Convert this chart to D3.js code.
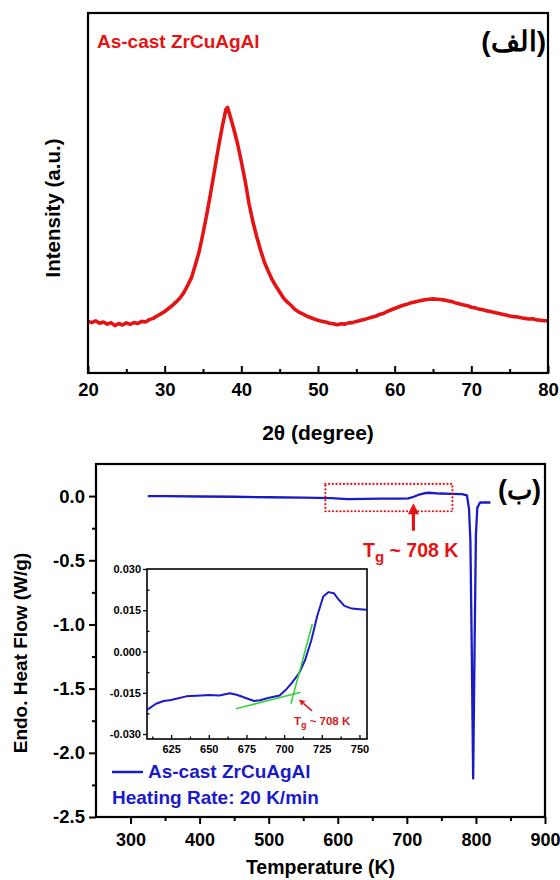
<!DOCTYPE html>
<html><head><meta charset="utf-8">
<script src="https://cdn.jsdelivr.net/npm/d3@7"></script>
<style>
body{margin:0;background:#fff}
text{font-family:"Liberation Sans",Arial,sans-serif;font-weight:bold}
</style>
</head><body>
<svg id="c" width="560" height="880" xmlns="http://www.w3.org/2000/svg"></svg>
<script>
// ---------- DATA ----------
const xrdAngle = [20,20.5,21,21.5,22,22.5,23,23.5,24,24.5,25,25.5,26,26.5,27,27.5,28,28.5,29,29.5,30,30.5,31,31.5,32,32.5,33,33.5,34,34.5,35,35.5,36,36.5,37,37.5,38,38.2,38.5,39,39.5,40,40.5,41,41.5,42,42.5,43,43.5,44,44.5,45,45.5,46,46.5,47,47.5,48,48.5,49,49.5,50,50.5,51,51.5,52,52.5,53,53.5,54,54.5,55,55.5,56,56.5,57,57.5,58,58.5,59,59.5,60,60.5,61,61.5,62,62.5,63,63.5,64,64.5,65,65.5,66,66.5,67,67.5,68,68.5,69,69.5,70,70.5,71,71.5,72,72.5,73,73.5,74,74.5,75,75.5,76,76.5,77,77.5,78,78.5,79,79.5,80];
const xrdIntensity = [172,168,174,166,170,163,168,158,165,160,167,162,168,165,172,170,178,182,190,197,205,215,225,237,250,268,292,318,360,405,465,530,600,675,750,820,880,885,860,815,765,705,640,565,505,455,410,370,340,312,290,270,250,236,225,212,203,197,190,185,180,176,172,170,166,164,161,164,163,167,168,172,175,178,182,186,189,195,198,205,210,215,220,225,228,233,236,239,242,244,246,247,246,245,243,240,238,233,230,227,224,219,217,213,211,207,205,202,199,196,193,190,188,187,184,182,180,181,177,176,174,174];
const xrdXTicks = [20,30,40,50,60,70,80];

const dscTemp = [325,350,400,450,500,550,590,614,640,662,690,702,710,718,725,732,748,765,780,787,790,792,794,796,798,800,802,806,821];
const dscHeat = [0.0,-0.001,-0.003,-0.005,-0.009,-0.012,-0.016,-0.024,-0.022,-0.02,-0.02,-0.018,-0.005,0.012,0.022,0.026,0.02,0.018,0.016,0.005,-0.1,-0.35,-1.2,-2.2,-1.2,-0.3,-0.09,-0.05,-0.05];
const dscXTicks = [300,400,500,600,700,800,900];
const dscYTicks = [0.0,-0.5,-1.0,-1.5,-2.0,-2.5];
const dscBox = [582,766,0.095,-0.118];     // Tmin, Tmax, top, bottom
const dscArrow = [709.5,-0.27,-0.055];     // T, tail, head

const insetTemp = [609,615,620,625,635,645,650,657,664,669,675,680,684,690,697,701,705,710,714,718,722,726,729.5,733,736,740,745,750,755];
const insetHeat = [-0.0212,-0.0190,-0.0180,-0.0176,-0.0163,-0.0160,-0.0158,-0.0160,-0.0152,-0.0158,-0.0170,-0.0180,-0.0177,-0.0168,-0.0160,-0.0140,-0.0115,-0.0078,-0.0030,0.0040,0.0130,0.0200,0.0216,0.0212,0.0190,0.0166,0.0156,0.0154,0.0152];
const insetXTicks = [625,650,675,700,725,750];
const insetYTicks = [0.030,0.015,0.000,-0.015,-0.030];
const tangentBase = [[668,-0.0208],[711,-0.0148]];
const tangentSteep = [[704.5,-0.0190],[718.7,0.0100]];
const insetArrow = [[718.5,-0.0216],[709.8,-0.0174]];

// ---------- DRAW ----------
const svg = d3.select("#c");
const RED = "#e41414", BLUE = "#1a1ac8";
const FONT = "'Liberation Sans',Arial,sans-serif";

// ===== Top chart (XRD) =====
const t = {l:88, r:548, t:13, b:373};
const xX = d3.scaleLinear().domain([20,80]).range([t.l,t.r]);
const yX = d3.scaleLinear().domain([0,1200]).range([t.b,t.t]);
const gt = svg.append("g");
gt.append("path")
  .datum(xrdAngle.map((a,i)=>[a,xrdIntensity[i]]))
  .attr("fill","none").attr("stroke",RED).attr("stroke-width",3.6)
  .attr("stroke-linejoin","round")
  .attr("d", d3.line().x(d=>xX(d[0])).y(d=>yX(d[1])));
gt.append("g").attr("transform",`translate(0,${t.b})`)
  .call(d3.axisBottom(xX).tickValues(d3.range(25,80,10)).tickSizeInner(-4).tickSizeOuter(0).tickFormat(""))
  .call(g=>g.select(".domain").remove())
  .call(g=>g.selectAll("line").attr("stroke-width",2));
gt.append("g").attr("transform",`translate(0,${t.b})`)
  .call(d3.axisBottom(xX).tickValues(xrdXTicks).tickSizeInner(-7).tickSizeOuter(0).tickPadding(10))
  .call(g=>g.select(".domain").remove())
  .call(g=>g.selectAll("line").attr("stroke-width",2))
  .call(g=>g.selectAll("text").attr("font-size",18.5).attr("fill","#000")
     .attr("font-family",FONT).attr("font-weight","bold"));
gt.append("rect").attr("x",t.l).attr("y",t.t).attr("width",t.r-t.l).attr("height",t.b-t.t)
  .attr("fill","none").attr("stroke","#000").attr("stroke-width",2.2);
gt.append("text").attr("x",(t.l+t.r)/2).attr("y",440).attr("text-anchor","middle")
  .attr("font-size",21).text("2θ (degree)");
gt.append("text").attr("transform",`translate(60,208) rotate(-90)`)
  .attr("text-anchor","middle").attr("font-size",20.5).text("Intensity (a.u.)");
gt.append("text").attr("x",97).attr("y",48).attr("fill",RED).attr("font-size",19)
  .text("As-cast ZrCuAgAl");
gt.append("text").attr("x",546).attr("y",51).attr("text-anchor","end")
  .attr("font-family","'DejaVu Sans',sans-serif").attr("font-size",28).text("(الف)");

// ===== Bottom chart (DSC) =====
const m = {l:96, r:545, t:464, b:817};
const xD = d3.scaleLinear().domain([250,900]).range([m.l,m.r]);
const yD = d3.scaleLinear().domain([-2.5,0.25]).range([m.b,m.t]);
const gb = svg.append("g");
gb.append("g").attr("transform",`translate(0,${m.b})`)
  .call(d3.axisBottom(xD).tickValues(d3.range(350,900,100)).tickSizeInner(4).tickSizeOuter(0).tickFormat(""))
  .call(g=>g.select(".domain").remove()).call(g=>g.selectAll("line").attr("stroke-width",2));
gb.append("g").attr("transform",`translate(${m.l},0)`)
  .call(d3.axisLeft(yD).tickValues(d3.range(-2.25,0.1,0.5)).tickSizeInner(4).tickSizeOuter(0).tickFormat(""))
  .call(g=>g.select(".domain").remove()).call(g=>g.selectAll("line").attr("stroke-width",2));
gb.append("g").attr("transform",`translate(0,${m.b})`)
  .call(d3.axisBottom(xD).tickValues(dscXTicks).tickSizeInner(7).tickSizeOuter(0).tickPadding(9))
  .call(g=>g.select(".domain").remove())
  .call(g=>g.selectAll("line").attr("stroke-width",2))
  .call(g=>g.selectAll("text").attr("font-size",18).attr("fill","#000")
     .attr("font-family",FONT).attr("font-weight","bold"));
gb.append("g").attr("transform",`translate(${m.l},0)`)
  .call(d3.axisLeft(yD).tickValues(dscYTicks).tickSizeInner(7).tickSizeOuter(0).tickPadding(4))
  .call(g=>g.select(".domain").remove())
  .call(g=>g.selectAll("line").attr("stroke-width",2))
  .call(g=>g.selectAll("text").attr("font-size",18.5).attr("fill","#000")
     .attr("font-family",FONT).attr("font-weight","bold")
     .text(d=>d3.format(".1f")(d).replace("−","-")));
gb.append("rect").attr("x",m.l).attr("y",m.t).attr("width",m.r-m.l).attr("height",m.b-m.t)
  .attr("fill","none").attr("stroke","#000").attr("stroke-width",2.2);
gb.append("path")
  .datum(dscTemp.map((a,i)=>[a,dscHeat[i]]))
  .attr("fill","none").attr("stroke",BLUE).attr("stroke-width",2.3).attr("stroke-linejoin","round")
  .attr("d", d3.line().x(d=>xD(d[0])).y(d=>yD(d[1])));
gb.append("rect").attr("x",xD(dscBox[0])).attr("y",yD(dscBox[2]))
  .attr("width",xD(dscBox[1])-xD(dscBox[0])).attr("height",yD(dscBox[3])-yD(dscBox[2]))
  .attr("fill","none").attr("stroke",RED).attr("stroke-width",2.2)
  .attr("stroke-dasharray","0.1,3.6").attr("stroke-linecap","round");
{
  const ax = xD(dscArrow[0]), y1 = yD(dscArrow[1]), y2 = yD(dscArrow[2]);
  gb.append("line").attr("x1",ax).attr("x2",ax).attr("y1",y1).attr("y2",y2+9)
    .attr("stroke",RED).attr("stroke-width",3.2);
  gb.append("path").attr("d",`M${ax},${y2} L${ax-5.5},${y2+11} L${ax+5.5},${y2+11} Z`).attr("fill",RED);
}
{
  const tx = gb.append("text").attr("x",363).attr("y",557).attr("fill",RED).attr("font-size",19.5);
  tx.append("tspan").text("T");
  tx.append("tspan").attr("font-size",15).attr("dy",5).text("g");
  tx.append("tspan").attr("dy",-5).text(" ~ 708 K");
}
gb.append("text").attr("x",541).attr("y",499).attr("text-anchor","end")
  .attr("font-family","'DejaVu Sans',sans-serif").attr("font-size",27).text("(ب)");
gb.append("text").attr("transform",`translate(27,653) rotate(-90)`)
  .attr("text-anchor","middle").attr("font-size",19).text("Endo. Heat Flow (W/g)");
gb.append("text").attr("x",(m.l+m.r)/2).attr("y",874).attr("text-anchor","middle")
  .attr("font-size",19.5).text("Temperature (K)");
gb.append("line").attr("x1",112).attr("x2",143).attr("y1",772).attr("y2",772)
  .attr("stroke",BLUE).attr("stroke-width",2.5);
gb.append("text").attr("x",148).attr("y",778).attr("fill",BLUE).attr("font-size",19).text("As-cast ZrCuAgAl");
gb.append("text").attr("x",112).attr("y",804).attr("fill",BLUE).attr("font-size",19).text("Heating Rate: 20 K/min");

// ===== Inset =====
const n = {l:147, r:367, t:569, b:739};
const xI = d3.scaleLinear().domain([609,755]).range([n.l,n.r]);
const yI = d3.scaleLinear().domain([-0.0318,0.030]).range([n.b,n.t]);
const gi = svg.append("g");
gi.append("rect").attr("x",n.l).attr("y",n.t).attr("width",n.r-n.l).attr("height",n.b-n.t).attr("fill","#fff");
gi.append("g").attr("transform",`translate(0,${n.b})`)
  .call(d3.axisBottom(xI).tickValues(d3.range(612.5,755,25)).tickSizeInner(-2.5).tickSizeOuter(0).tickFormat(""))
  .call(g=>g.select(".domain").remove()).call(g=>g.selectAll("line").attr("stroke-width",1.3));
gi.append("g").attr("transform",`translate(${n.l},0)`)
  .call(d3.axisLeft(yI).tickValues([0.0225,0.0075,-0.0075,-0.0225]).tickSizeInner(-2.5).tickSizeOuter(0).tickFormat(""))
  .call(g=>g.select(".domain").remove()).call(g=>g.selectAll("line").attr("stroke-width",1.3));
gi.append("g").attr("transform",`translate(0,${n.b})`)
  .call(d3.axisBottom(xI).tickValues(insetXTicks).tickSizeInner(-4).tickSizeOuter(0).tickPadding(6))
  .call(g=>g.select(".domain").remove()).call(g=>g.selectAll("line").attr("stroke-width",1.3))
  .call(g=>g.selectAll("text").attr("font-size",11).attr("fill","#000")
     .attr("font-family",FONT).attr("font-weight","bold"));
gi.append("g").attr("transform",`translate(${n.l},0)`)
  .call(d3.axisLeft(yI).tickValues(insetYTicks).tickSizeInner(4).tickSizeOuter(0).tickPadding(2))
  .call(g=>g.select(".domain").remove()).call(g=>g.selectAll("line").attr("stroke-width",1.3))
  .call(g=>g.selectAll("text").attr("font-size",11).attr("fill","#000")
     .attr("font-family",FONT).attr("font-weight","bold")
     .text(d=>d3.format(".3f")(d).replace("−","-")));
gi.append("rect").attr("x",n.l).attr("y",n.t).attr("width",n.r-n.l).attr("height",n.b-n.t)
  .attr("fill","none").attr("stroke","#000").attr("stroke-width",1.6);
const lineI = d3.line().x(d=>xI(d[0])).y(d=>yI(d[1]));
gi.append("path").datum(insetTemp.map((a,i)=>[a,insetHeat[i]]))
  .attr("fill","none").attr("stroke",BLUE).attr("stroke-width",2).attr("stroke-linejoin","round").attr("d",lineI);
[tangentBase,tangentSteep].forEach(tg=>{
  gi.append("path").datum(tg).attr("fill","none").attr("stroke","#3cd23c").attr("stroke-width",1.6).attr("d",lineI);
});
{
  const [p1,p2] = insetArrow;
  const x1=xI(p1[0]),y1=yI(p1[1]),x2=xI(p2[0]),y2=yI(p2[1]);
  const ang=Math.atan2(y2-y1,x2-x1), L=6, W=3;
  const bx=x2-L*Math.cos(ang), by=y2-L*Math.sin(ang);
  gi.append("line").attr("x1",x1).attr("y1",y1).attr("x2",bx).attr("y2",by).attr("stroke","#d42020").attr("stroke-width",1.6);
  gi.append("path").attr("fill","#d42020")
    .attr("d",`M${x2},${y2} L${bx+W*Math.sin(ang)},${by-W*Math.cos(ang)} L${bx-W*Math.sin(ang)},${by+W*Math.cos(ang)} Z`);
  const tx = gi.append("text").attr("x",xI(706.5)).attr("y",yI(-0.0268)).attr("fill","#d42020").attr("font-size",11.5);
  tx.append("tspan").text("T");
  tx.append("tspan").attr("font-size",9).attr("dy",3).text("g");
  tx.append("tspan").attr("dy",-3).text(" ~ 708 K");
}
</script>
</body></html>
